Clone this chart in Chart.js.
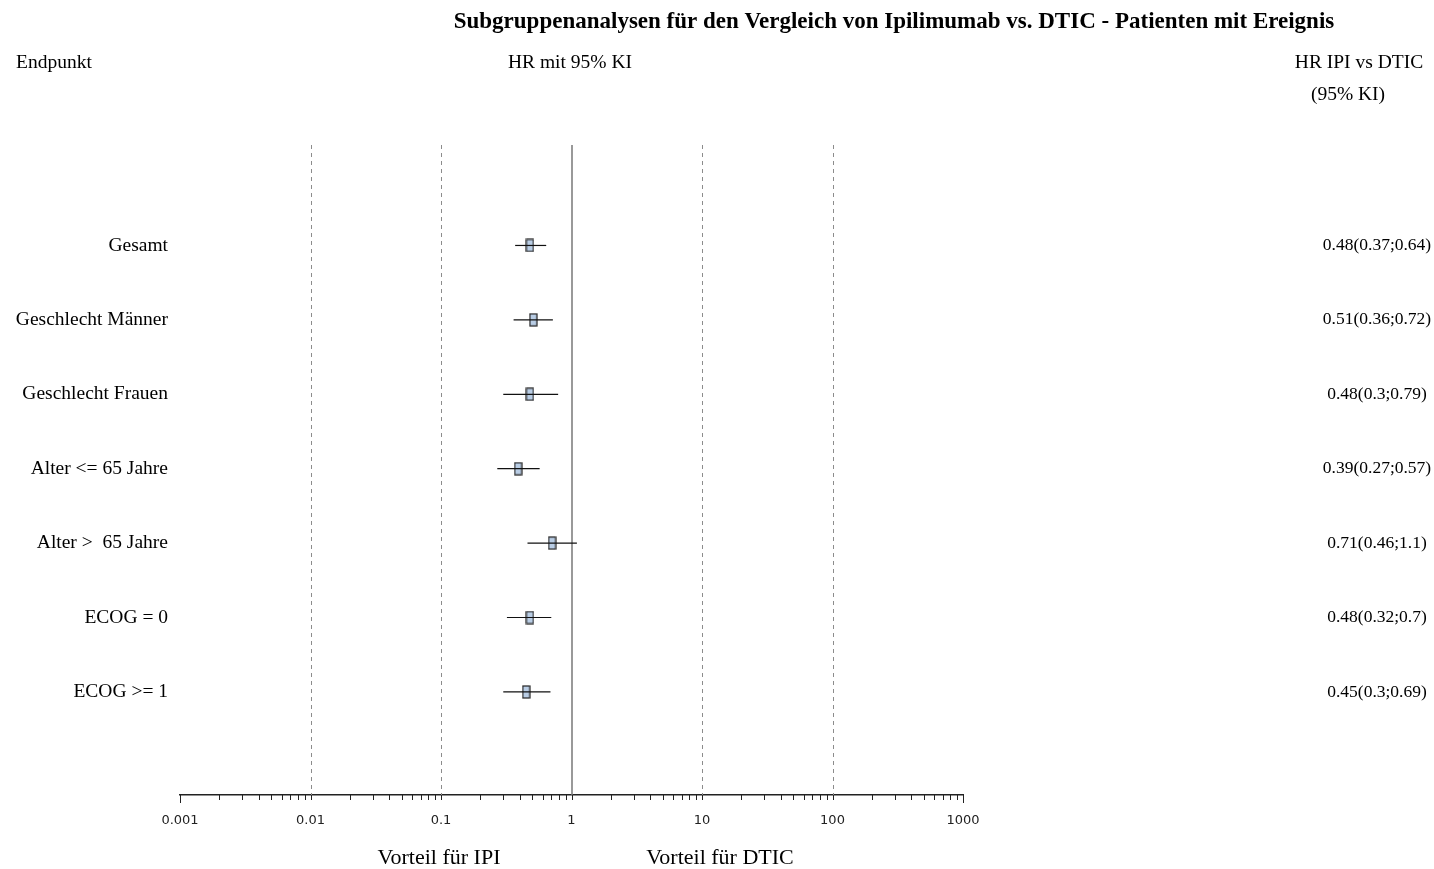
<!DOCTYPE html>
<html>
<head>
<meta charset="utf-8">
<script src="https://cdn.jsdelivr.net/npm/chart.js@4/dist/chart.umd.min.js"></script>
<style>
  body { margin: 0; background: #fff; }
  #wrap { width: 1434px; height: 869px; }
</style>
</head>
<body>
<div id="wrap"><canvas id="forest"></canvas></div>
<script>
// subgroup data
const categories = ['Gesamt', 'Geschlecht Männer', 'Geschlecht Frauen', 'Alter <= 65 Jahre', 'Alter >  65 Jahre', 'ECOG = 0', 'ECOG >= 1'];
const hr = [0.48, 0.51, 0.48, 0.39, 0.71, 0.48, 0.45];
const lower = [0.37, 0.36, 0.3, 0.27, 0.46, 0.32, 0.3];
const upper = [0.64, 0.72, 0.79, 0.57, 1.1, 0.7, 0.69];
const hrText = ['0.48(0.37;0.64)', '0.51(0.36;0.72)', '0.48(0.3;0.79)', '0.39(0.27;0.57)', '0.71(0.46;1.1)', '0.48(0.32;0.7)', '0.45(0.3;0.69)'];
const xTicks = [0.001, 0.01, 0.1, 1, 10, 100, 1000];
const refLines = [0.01, 0.1, 10, 100];

const serif = "'Liberation Serif', 'Times New Roman', serif";

// little rectangle marker for the HR point
const box = document.createElement('canvas');
box.width = 9; box.height = 14;
(function () {
  const c = box.getContext('2d');
  c.fillStyle = '#b9cde5';
  c.fillRect(1, 1, 7, 12);
  c.strokeStyle = '#222';
  c.lineWidth = 1.2;
  c.strokeRect(1, 1, 7, 12);
})();

const datasets = [];
categories.forEach((c, i) => {
  datasets.push({
    type: 'line',
    data: [{x: lower[i], y: i}, {x: upper[i], y: i}],
    borderColor: '#111',
    borderWidth: 1.2,
    pointRadius: 0
  });
});
datasets.push({
  type: 'scatter',
  data: hr.map((v, i) => ({x: v, y: i})),
  pointStyle: box,
  pointRadius: 6
});

const decorations = {
  id: 'decorations',
  beforeDatasetsDraw(chart) {
    const ctx = chart.ctx, xs = chart.scales.x, area = chart.chartArea;
    ctx.save();
    ctx.strokeStyle = '#8c8c8c';
    ctx.lineWidth = 1;
    ctx.setLineDash([4, 4]);
    refLines.forEach(v => {
      const px = Math.round(xs.getPixelForValue(v)) + 0.5;
      ctx.beginPath(); ctx.moveTo(px, area.top); ctx.lineTo(px, area.bottom); ctx.stroke();
    });
    ctx.setLineDash([]);
    ctx.strokeStyle = '#777';
    ctx.lineWidth = 1.5;
    const p1 = Math.round(xs.getPixelForValue(1));
    ctx.beginPath(); ctx.moveTo(p1, area.top); ctx.lineTo(p1, area.bottom); ctx.stroke();
    ctx.restore();
  },
  afterDraw(chart) {
    const ctx = chart.ctx, xs = chart.scales.x, ys = chart.scales.y, area = chart.chartArea;
    ctx.save();
    // axis ticks
    ctx.strokeStyle = '#222';
    ctx.lineWidth = 1;
    for (let d = 0.001; d < 999; d *= 10) {
      for (let k = 1; k <= 9; k++) {
        const px = Math.round(xs.getPixelForValue(d * k)) + 0.5;
        const len = (k === 1 && (d < 0.002)) ? 8 : 5;
        ctx.beginPath(); ctx.moveTo(px, area.bottom); ctx.lineTo(px, area.bottom + len); ctx.stroke();
      }
    }
    const pe = Math.round(xs.getPixelForValue(1000)) + 0.5;
    ctx.beginPath(); ctx.moveTo(pe, area.bottom); ctx.lineTo(pe, area.bottom + 8); ctx.stroke();

    // texts
    ctx.fillStyle = '#000';
    ctx.textBaseline = 'middle';
    ctx.font = 'bold 23px ' + serif;
    ctx.textAlign = 'center';
    ctx.fillText('Subgruppenanalysen für den Vergleich von Ipilimumab vs. DTIC - Patienten mit Ereignis', 894, 22);
    ctx.font = '19.5px ' + serif;
    ctx.textAlign = 'left';
    ctx.fillText('Endpunkt', 16, 63);
    ctx.textAlign = 'center';
    ctx.fillText('HR mit 95% KI', 570, 63);
    ctx.fillText('HR IPI vs DTIC', 1359, 63);
    ctx.fillText('(95% KI)', 1348, 95);
    ctx.font = '22px ' + serif;
    ctx.fillText('Vorteil für IPI', 439, 858);
    ctx.fillText('Vorteil für DTIC', 720, 858);
    ctx.font = '17.5px ' + serif;
    hrText.forEach((t, i) => {
      ctx.fillText(t, 1377, ys.getPixelForValue(i));
    });
    ctx.restore();
  }
};

new Chart(document.getElementById('forest'), {
  data: { datasets: datasets },
  options: {
    responsive: true,
    maintainAspectRatio: false,
    animation: false,
    layout: { padding: { left: 0, right: 471, top: 145, bottom: 0 } },
    plugins: { legend: { display: false }, tooltip: { enabled: false } },
    scales: {
      x: {
        type: 'logarithmic',
        min: 0.001,
        max: 1000,
        afterBuildTicks: s => { s.ticks = xTicks.map(v => ({value: v})); },
        afterFit: s => { s.height = 74; },
        grid: { display: false },
        border: { display: true, color: '#222', width: 1.6 },
        ticks: {
          padding: 10,
          color: '#222',
          font: { family: "'DejaVu Sans', sans-serif", size: 13 },
          callback: v => String(v)
        }
      },
      y: {
        type: 'linear',
        reverse: true,
        min: -1.35,
        max: 7.385,
        afterBuildTicks: s => { s.ticks = categories.map((c, i) => ({value: i})); },
        afterFit: s => { s.width = 180; },
        grid: { display: false },
        border: { display: false },
        ticks: {
          padding: 4,
          color: '#000',
          font: { family: serif, size: 19.5 },
          callback: v => categories[v]
        }
      }
    }
  },
  plugins: [decorations]
});
</script>
</body>
</html>
